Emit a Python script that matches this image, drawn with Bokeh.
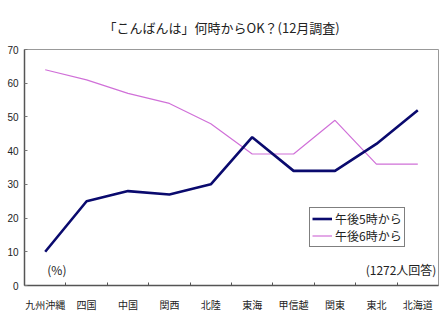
from bokeh.plotting import figure
from bokeh.models import FixedTicker, Range1d, Legend, LegendItem, Label, ColumnDataSource
from bokeh.embed import file_html
from bokeh.resources import INLINE
import numpy as np

categories = ["九州沖縄", "四国", "中国", "関西", "北陸", "東海", "甲信越", "関東", "東北", "北海道"]
after5 = [10, 25, 28, 27, 30, 44, 34, 34, 42, 52]
after6 = [64, 61, 57, 54, 48, 39, 39, 49, 36, 36]
series_names = ["午後5時から", "午後6時から"]
y_ticks = [0, 10, 20, 30, 40, 50, 60, 70]
title_text = "「こんばんは」何時からOK？(12月調査)"

FONT = "Noto Sans CJK JP"
n = len(categories)
xpos = np.arange(n) + 0.5

p = figure(width=446, height=314, output_backend="svg", toolbar_location=None,
           x_range=Range1d(0, n), y_range=Range1d(0, 70),
           min_border_left=24, min_border_right=8, min_border_top=49, min_border_bottom=26)

p.title.text = title_text
p.title.align = "left"
p.title.offset = 79
p.title.vertical_align = "top"
p.title.standoff = 22
p.title.text_font = FONT
p.title.text_font_size = "13px"
p.title.text_font_style = "normal"
p.title.text_color = "#222222"

p.grid.visible = False
p.outline_line_color = "#999999"
p.outline_line_width = 1

# x axis
p.xaxis.ticker = FixedTicker(ticks=list(xpos), minor_ticks=list(range(1, n)))
p.xaxis.major_label_overrides = {float(x): c for x, c in zip(xpos, categories)}
p.xaxis.major_tick_line_color = None
p.xaxis.minor_tick_in = 3
p.xaxis.minor_tick_out = 0
p.xaxis.minor_tick_line_color = "#555555"
p.xaxis.axis_line_color = "#555555"
p.xaxis.axis_line_width = 1.5
p.xaxis.major_label_text_font = FONT
p.xaxis.major_label_text_font_size = "10px"
p.xaxis.major_label_text_color = "#222222"
p.xaxis.major_label_standoff = 5

# y axis
p.yaxis.ticker = FixedTicker(ticks=y_ticks)
p.yaxis.major_tick_in = 3
p.yaxis.major_tick_out = 0
p.yaxis.minor_tick_line_color = None
p.yaxis.major_tick_line_color = "#777777"
p.yaxis.axis_line_color = "#555555"
p.yaxis.axis_line_width = 1.5
p.yaxis.major_label_text_font = "Liberation Sans"
p.yaxis.major_label_text_font_size = "10px"
p.yaxis.major_label_text_color = "#222222"
p.yaxis.major_label_standoff = 6

src = ColumnDataSource(dict(x=xpos, a5=after5, a6=after6))
r6 = p.line("x", "a6", source=src, line_color="#d070d8", line_width=1.2)
r5 = p.line("x", "a5", source=src, line_color="#0a0a6e", line_width=2.6)

legend = Legend(items=[LegendItem(label=series_names[0], renderers=[r5]),
                       LegendItem(label=series_names[1], renderers=[r6])],
                location=(285, 38))
legend.label_text_font = FONT
legend.label_text_font_size = "12px"
legend.label_text_color = "#222222"
legend.border_line_color = "#000000"
legend.border_line_width = 1
legend.padding = 2
legend.spacing = 0
legend.margin = 0
legend.glyph_width = 20
legend.glyph_height = 17
legend.label_height = 17
legend.label_standoff = 3
legend.background_fill_alpha = 1
p.add_layout(legend, "center")

p.add_layout(Label(x=0.55, y=4.7, text="(%)", text_font=FONT, text_font_size="12px",
                   text_baseline="middle", text_color="#222222"))
p.add_layout(Label(x=9.95, y=4.7, text="(1272人回答)", text_font=FONT, text_font_size="12px",
                   text_baseline="middle", text_align="right", text_color="#222222"))

open("out.html", "w").write(file_html(p, INLINE))
